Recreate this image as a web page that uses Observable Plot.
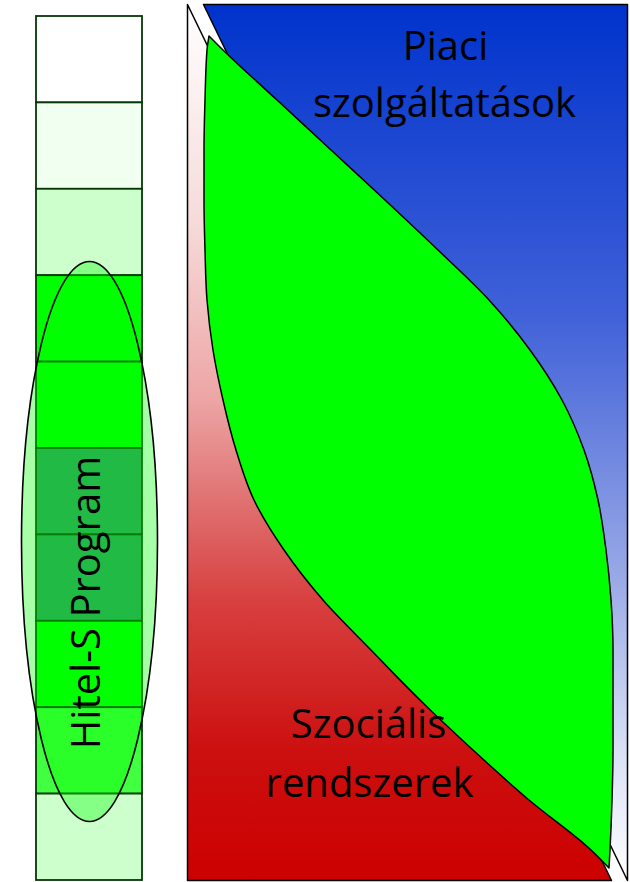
<!DOCTYPE html>
<html><head><meta charset="utf-8">
<script src="https://cdn.jsdelivr.net/npm/d3@7"></script>
<script src="https://cdn.jsdelivr.net/npm/@observablehq/plot@0.6"></script>
<style>html,body{margin:0;padding:0;background:#fff}</style>
</head><body><div id="chart"></div>
<script>
// ---- data ----
const levelNames = ["1","2","3","4","5","6","7","8","9","10"];
const levelColors = ["#FFFFFF","#F0FFF0","#CCFFCC","#00FF00","#00FF00","#349669","#349669","#00FF00","#41FF41","#CCFFCC"];

const lensY     = [36, 50, 100, 150, 200, 250, 300, 350, 400, 450, 500, 550, 600, 650, 700, 750, 800, 850, 868];
const lensLeft  = [209, 207, 205, 204, 204, 205, 207, 213, 223, 236, 254, 284, 323, 371, 420, 473, 529, 591, 609];
const lensRight = [209, 223, 277, 331, 385, 438, 489, 530, 562, 584, 598, 606, 611, 613, 613, 613, 612, 610, 609];

const sectorLabels = ["Piaci", "szolgáltatások", "Szociális", "rendszerek"];
const sectorLabelX = [445, 444, 368, 369];
const sectorLabelY = [47, 104, 725, 784];
const programLabel = ["Hitel-S Program"];

// ---- layout ----
const W = 630, H = 882;
const col = {x1: 36, x2: 142, y1: 16, y2: 880};
const panel = {x1: 187, x2: 627, y1: 4, y2: 880, gap: 16};
const oval = {cx: 89.5, cy: 541.5, rx: 68, ry: 280};

const cellH = (col.y2 - col.y1) / levelNames.length;
const cells = levelNames.map((n, i) => ({name: n, color: levelColors[i], y1: col.y1 + i * cellH, y2: col.y1 + (i + 1) * cellH}));
const lens = lensY.map((y, i) => ({y, left: lensLeft[i], right: lensRight[i]}));
const redTri = [{x: panel.x1, y: panel.y1}, {x: panel.x1, y: panel.y2}, {x: panel.x2 - panel.gap, y: panel.y2}];
const blueTri = [{x: panel.x1 + panel.gap, y: panel.y1}, {x: panel.x2, y: panel.y1}, {x: panel.x2, y: panel.y2}];
const labels = sectorLabels.map((t, i) => ({t, x: sectorLabelX[i], y: sectorLabelY[i]}));

function defsMark() {
  const defs = d3.create("svg:defs");
  const r = defs.append("linearGradient").attr("id", "redGrad").attr("x1", 0).attr("y1", 0).attr("x2", 0).attr("y2", 1);
  [[0, "#FFFFFF"], [0.25, "#F7DADA"], [0.45, "#EDA5A5"], [0.57, "#E07070"], [0.68, "#D84040"], [0.85, "#CC1010"], [1, "#CC0000"]]
    .forEach(([o, c]) => r.append("stop").attr("offset", o).attr("stop-color", c));
  const b = defs.append("linearGradient").attr("id", "blueGrad").attr("x1", 0).attr("y1", 0).attr("x2", 0).attr("y2", 1);
  [[0, "#0033CC"], [0.35, "#3F60D8"], [0.65, "#98A8E6"], [0.85, "#D8E0F6"], [1, "#FFFFFF"]]
    .forEach(([o, c]) => b.append("stop").attr("offset", o).attr("stop-color", c));
  return defs.node();
}

function ovalMark(index, scales) {
  const x = scales.x, y = scales.y;
  const e = d3.create("svg:ellipse")
    .attr("cx", x(oval.cx)).attr("cy", y(oval.cy))
    .attr("rx", x(oval.cx + oval.rx) - x(oval.cx))
    .attr("ry", y(oval.cy + oval.ry) - y(oval.cy))
    .attr("fill", "#00FF00").attr("fill-opacity", 0.35)
    .attr("stroke", "black").attr("stroke-width", 1.6);
  return e.node();
}

const chart = Plot.plot({
  width: W, height: H,
  margin: 0,
  x: {domain: [0, W], range: [0, W], axis: null},
  y: {domain: [0, H], range: [0, H], axis: null},
  color: {type: "identity"},
  style: {background: "white", fontFamily: "Open Sans"},
  marks: [
    defsMark,
    Plot.rect(cells, {x1: col.x1, x2: col.x2, y1: "y1", y2: "y2", fill: "color", stroke: "#063806", strokeWidth: 1.8}),
    ovalMark,
    Plot.text(programLabel, {x: 87, y: 602, text: d => d, rotate: -90, fontSize: 40, fontFamily: "Open Sans", fill: "black"}),
    Plot.line(redTri, {x: "x", y: "y", curve: "linear-closed", fill: "url(#redGrad)", stroke: "black", strokeWidth: 1.5}),
    Plot.line(blueTri, {x: "x", y: "y", curve: "linear-closed", fill: "url(#blueGrad)", stroke: "black", strokeWidth: 1.5}),
    Plot.areaX(lens, {y: "y", x1: "left", x2: "right", curve: "monotone-y", fill: "#00FF00", stroke: "black", strokeWidth: 1.5}),
    Plot.text(labels, {x: "x", y: "y", text: "t", fontSize: 40, fontFamily: "Open Sans", fill: "black"})
  ]
});
document.getElementById("chart").appendChild(chart);
</script>
</body></html>
